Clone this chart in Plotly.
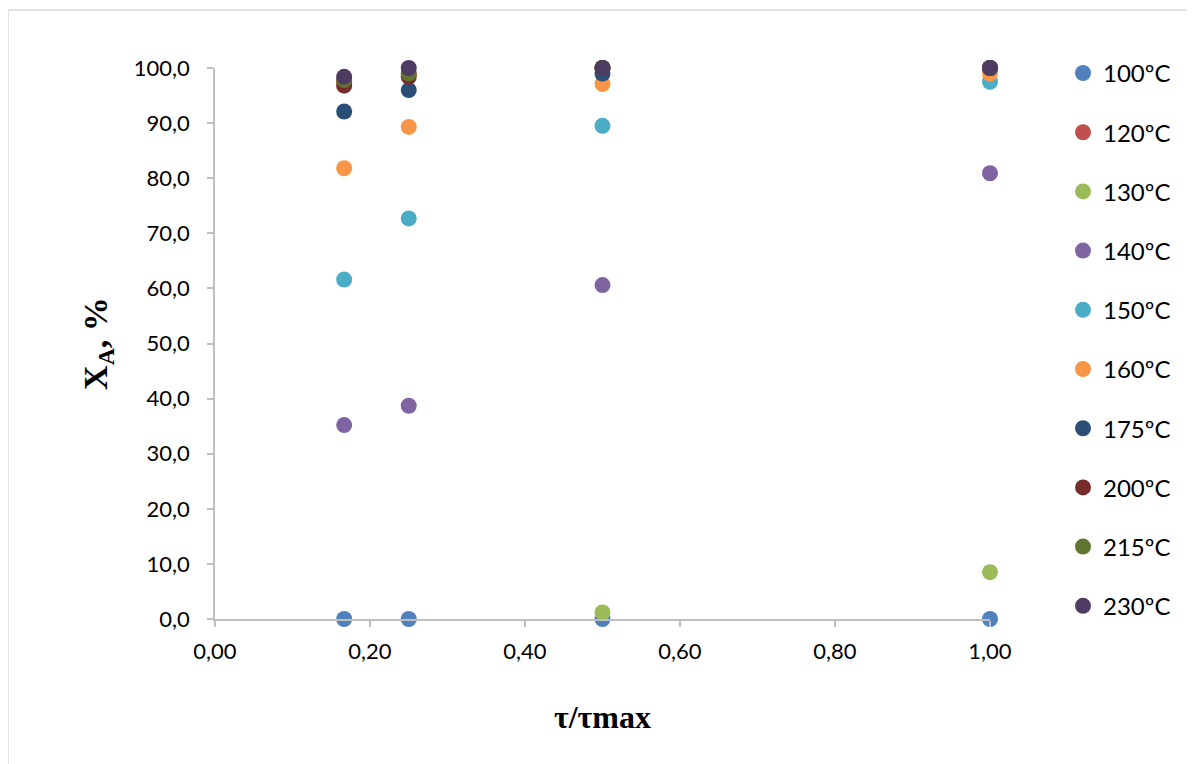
import plotly.graph_objects as go

x_vals = [1/6, 0.25, 0.5, 1.0]
series_names = ["100ºC", "120ºC", "130ºC", "140ºC", "150ºC", "160ºC", "175ºC", "200ºC", "215ºC", "230ºC"]
s100 = [0.0, 0.0, 0.0, 0.0]
s120 = [97.5, 99.0, 100.0, 100.0]
s130 = [None, None, 1.2, 8.5]
s140 = [35.2, 38.7, 60.6, 80.9]
s150 = [61.6, 72.7, 89.5, 97.5]
s160 = [81.8, 89.3, 97.1, 99.0]
s175 = [92.1, 96.0, 99.0, 100.0]
s200 = [96.8, 98.4, 100.0, 100.0]
s215 = [97.8, 99.0, 100.0, 100.0]
s230 = [98.4, 100.0, 100.0, 100.0]
series_values = [s100, s120, s130, s140, s150, s160, s175, s200, s215, s230]
colors = ["#4F81BD", "#C0504D", "#9BBB59", "#8064A2", "#4BACC6",
          "#F79646", "#2C4D75", "#772C2A", "#5F7530", "#4D3B62"]

y_ticks = [0, 10, 20, 30, 40, 50, 60, 70, 80, 90, 100]
x_ticks = [0, 0.2, 0.4, 0.6, 0.8, 1.0]

fig = go.Figure()
for i, (name, vals) in enumerate(zip(series_names, series_values)):
    fig.add_trace(go.Scatter(
        x=x_vals, y=vals, mode="markers", name=name,
        legendgroup=name,
        marker=dict(color=colors[i], size=16, line=dict(width=0)),
        cliponaxis=False,
    ))

axis_col = "#BFBFBF"
sans = "Lato, Carlito, 'Liberation Sans', sans-serif"
serif = "'Liberation Serif', 'Times New Roman', serif"
tick_font = dict(family=sans, size=22, color="#000000")

L, R, T, B = 207, 212, 60, 153  # page is offset by 8px body margin
PW, PH = 775, 551

fig.update_layout(
    width=1194, height=764,
    margin=dict(l=L, r=R, t=T, b=B),
    paper_bgcolor="white", plot_bgcolor="white",
    separators=", ",
    showlegend=True,
    legend=dict(
        x=(1063 - 8 - L) / PW, xanchor="left", y=1.031, yanchor="top",
        font=dict(family=sans, size=24, color="#000000"),
        tracegroupgap=25, itemsizing="trace", maxheight=1000,
    ),
    xaxis=dict(
        range=[0, 1.0], tickvals=x_ticks, tickformat=".2f",
        showgrid=False, zeroline=False, showline=True, linecolor=axis_col, linewidth=1.5,
        ticks="outside", ticklen=6, tickcolor=axis_col, tickwidth=1.5,
        tickfont=tick_font, ticklabelstandoff=6,
        title=dict(text="<b>τ/τmax</b>", font=dict(family=serif, size=32, color="#000000"), standoff=42),
    ),
    yaxis=dict(
        range=[0, 100], tickvals=y_ticks, tickformat=".1f",
        showgrid=False, zeroline=False, showline=True, linecolor=axis_col, linewidth=1.5,
        ticks="outside", ticklen=6, tickcolor=axis_col, tickwidth=1.5,
        tickfont=tick_font, ticklabelstandoff=13,
        title=dict(text="<b>X<sub>A</sub>, %</b>", font=dict(family=serif, size=34, color="#000000"), standoff=16),
    ),
    shapes=[dict(type="rect", xref="paper", yref="paper",
                 x0=(0 - L) / PW, x1=(1300 - L) / PW,
                 y0=(T + PH - 900) / PH, y1=(T + PH - 2) / PH,
                 line=dict(color="#D9D9D9", width=1.5), fillcolor="rgba(0,0,0,0)", layer="below")],
)

fig.write_html("out.html")
